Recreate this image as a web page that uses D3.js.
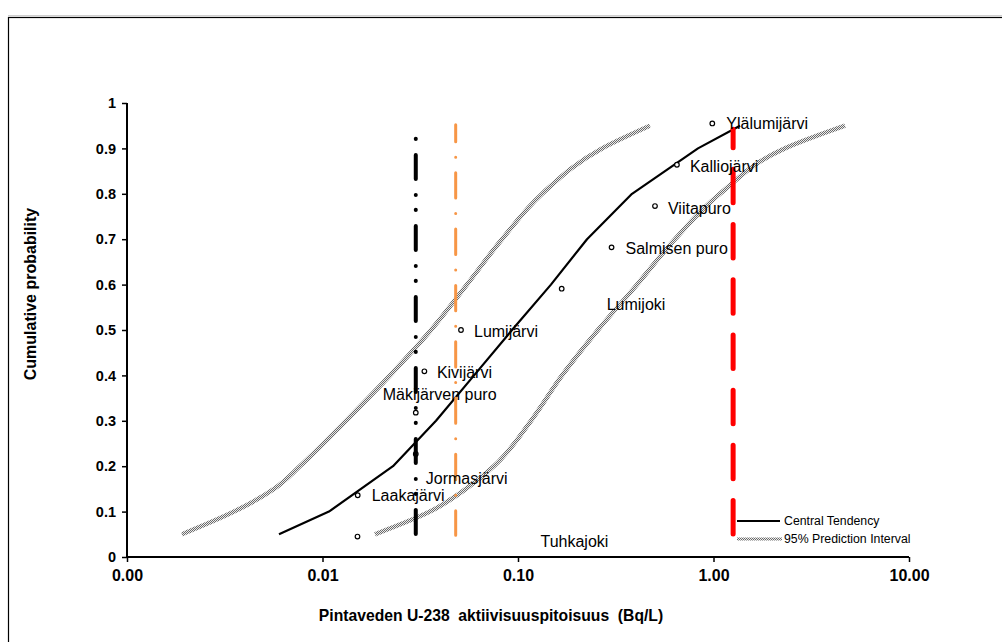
<!DOCTYPE html>
<html><head><meta charset="utf-8">
<script src="https://cdn.jsdelivr.net/npm/d3@7"></script>
<style>
body{margin:0;background:#fff}
svg{display:block;font-family:"Liberation Sans",Arial,sans-serif}
</style>
</head><body>
<svg id="chart" width="1002" height="642"></svg>
<script>
// ---------- data ----------
const yTicks = [0,0.1,0.2,0.3,0.4,0.5,0.6,0.7,0.8,0.9,1];
const yTickLabels = ["0","0.1","0.2","0.3","0.4","0.5","0.6","0.7","0.8","0.9","1"];
const xTicks = [0.001,0.01,0.1,1,10];
const xTickLabels = ["0.00","0.01","0.10","1.00","10.00"];

const ctProb  = [0.05,0.1,0.2,0.3,0.4,0.5,0.6,0.7,0.8,0.9,0.95];
const ctValue = [0.00599,0.01079,0.02294,0.03807,0.0596,0.0932,0.1474,0.2254,0.383,0.833,1.367];

const piProb  = [0.05,0.1,0.15,0.2,0.3,0.4,0.5,0.6,0.7,0.8,0.9,0.95];
const piLower = [0.00191,0.00353,0.00565,0.00767,0.01319,0.02215,0.0359,0.0548,0.0828,0.1327,0.269,0.473];
const piUpper = [0.01855,0.03547,0.0542,0.0753,0.1165,0.168,0.2564,0.4064,0.635,1.079,2.32,4.71];

const siteNames = ["Ylälumijärvi","Kalliojärvi","Viitapuro","Salmisen puro","Lumijoki","Lumijärvi","Kivijärvi","Mäkijärven puro","Jormasjärvi","Laakajärvi","Tuhkajoki"];
const siteValue = [0.986,0.650,0.502,0.301,0.1673,0.0511,0.0332,0.030,0.030,0.01514,0.0151];
const siteProb  = [0.955,0.864,0.773,0.682,0.591,0.5,0.409,0.318,0.227,0.136,0.045];

const refValue  = [0.03,0.048,1.26];
const refTop    = [0.921,0.952,0.942];
const refBottom = [0.0485,0.048,0.05];

const legendLabels = ["Central Tendency","95% Prediction Interval"];

// ---------- layout (not data) ----------
const labelOffsets = [[14,0],[13,2],[13,2],[14,1.5],[45,16],[13,1],[12.5,1.5],[-33,-18],[10,24.5],[14,0],[183,4.5]];
const refStyles = [
  {color:"#000000", width:4, dash:"0.01 16 24 16 0.01 14.98", offset:0},
  {color:"#f79646", width:3, dash:"25.3 15.5 0.01 15.5", offset:8.3},
  {color:"#ff0000", width:5, dash:"33.5 21.7", offset:15.2}
];

const svg = d3.select("#chart");
const x = d3.scaleLog().domain([0.001,10]).range([127,909]);
const y = d3.scaleLinear().domain([0,1]).range([557,103]);

// frame
svg.append("rect").attr("x",8.5).attr("y",17.5).attr("width",1000).attr("height",640)
  .attr("fill","none").attr("stroke","#000").attr("stroke-width",1.2);
svg.append("line").attr("x1",8).attr("x2",1002).attr("y1",15.8).attr("y2",15.8)
  .attr("stroke","#bbb").attr("stroke-width",1);

// pattern for prediction interval
const defs = svg.append("defs");
const pat = defs.append("pattern").attr("id","pi").attr("width",2).attr("height",2)
  .attr("patternUnits","userSpaceOnUse");
pat.append("rect").attr("width",2).attr("height",2).attr("fill","#ececec");
pat.append("rect").attr("x",0).attr("y",0).attr("width",1).attr("height",1).attr("fill","#6a6a6a");
pat.append("rect").attr("x",1).attr("y",1).attr("width",1).attr("height",1).attr("fill","#6a6a6a");

// axes
const yAxis = d3.axisLeft(y).tickValues(yTicks).tickFormat((d,i)=>yTickLabels[i]).tickSize(5).tickPadding(6);
const xAxis = d3.axisBottom(x).tickValues(xTicks).tickFormat((d,i)=>xTickLabels[i]).tickSize(5).tickPadding(8);
const gy = svg.append("g").attr("transform","translate(127,0)").call(yAxis);
const gx = svg.append("g").attr("transform","translate(0,557)").call(xAxis);
[gy,gx].forEach(g=>{
  g.select(".domain").attr("stroke","#000").attr("stroke-width",2);
  g.selectAll(".tick line").attr("stroke","#000").attr("stroke-width",1.5);
  g.selectAll(".tick text").attr("fill","#000").attr("font-weight","bold")
    .attr("font-family","'Liberation Sans',Arial,sans-serif");
});
gy.selectAll(".tick text").attr("font-size",14.5);
gx.selectAll(".tick text").attr("font-size",16);
gy.select(".domain").attr("d","M0,557V103");
gx.select(".domain").attr("d","M127,0H909");

// axis titles
svg.append("text").attr("x",491).attr("y",621).attr("text-anchor","middle")
  .attr("font-weight","bold").attr("font-size",15.7).attr("xml:space","preserve")
  .style("white-space","pre")
  .text("Pintaveden U-238  aktiivisuuspitoisuus  (Bq/L)");
svg.append("text").attr("transform","translate(36,294) rotate(-90)").attr("text-anchor","middle")
  .attr("font-weight","bold").attr("font-size",16).text("Cumulative probability");

// prediction interval curves
const piLine = vals => d3.line().curve(d3.curveMonotoneY)
  .x((d,i)=>x(vals[i])).y((d,i)=>y(piProb[i]))(piProb);
[piLower,piUpper].forEach(v=>{
  svg.append("path").attr("d",piLine(v)).attr("fill","none")
    .attr("stroke","url(#pi)").attr("stroke-width",4.5);
});

// central tendency
svg.append("path").attr("d", d3.line().x((d,i)=>x(ctValue[i])).y((d,i)=>y(ctProb[i]))(ctProb))
  .attr("fill","none").attr("stroke","#000").attr("stroke-width",2.2).attr("stroke-linejoin","round");

// points
svg.append("g").selectAll("circle").data(siteNames).join("circle")
  .attr("cx",(d,i)=>x(siteValue[i])).attr("cy",(d,i)=>y(siteProb[i])).attr("r",2.3)
  .attr("fill","#fff").attr("stroke","#000").attr("stroke-width",1.2);

// reference vertical lines
refValue.forEach((v,i)=>{
  const s = refStyles[i];
  svg.append("line").attr("x1",x(v)).attr("x2",x(v)).attr("y1",y(refTop[i])).attr("y2",y(refBottom[i]))
    .attr("stroke",s.color).attr("stroke-width",s.width).attr("stroke-linecap","round")
    .attr("stroke-dasharray",s.dash).attr("stroke-dashoffset",s.offset);
});

// labels
svg.append("g").selectAll("text").data(siteNames).join("text")
  .attr("x",(d,i)=>x(siteValue[i])+labelOffsets[i][0])
  .attr("y",(d,i)=>y(siteProb[i])+labelOffsets[i][1])
  .attr("dy","0.35em").attr("font-size",16).attr("fill","#000").text(d=>d);

// legend
const lg = svg.append("g");
lg.append("line").attr("x1",737).attr("x2",780).attr("y1",521).attr("y2",521)
  .attr("stroke","#000").attr("stroke-width",2.2);
lg.append("line").attr("x1",737).attr("x2",782).attr("y1",539).attr("y2",539)
  .attr("stroke","url(#pi)").attr("stroke-width",3);
lg.selectAll("text").data(legendLabels).join("text")
  .attr("x",784).attr("y",(d,i)=>521+i*18).attr("dy","0.35em").attr("font-size",12.3).text(d=>d);
</script>
</body></html>
